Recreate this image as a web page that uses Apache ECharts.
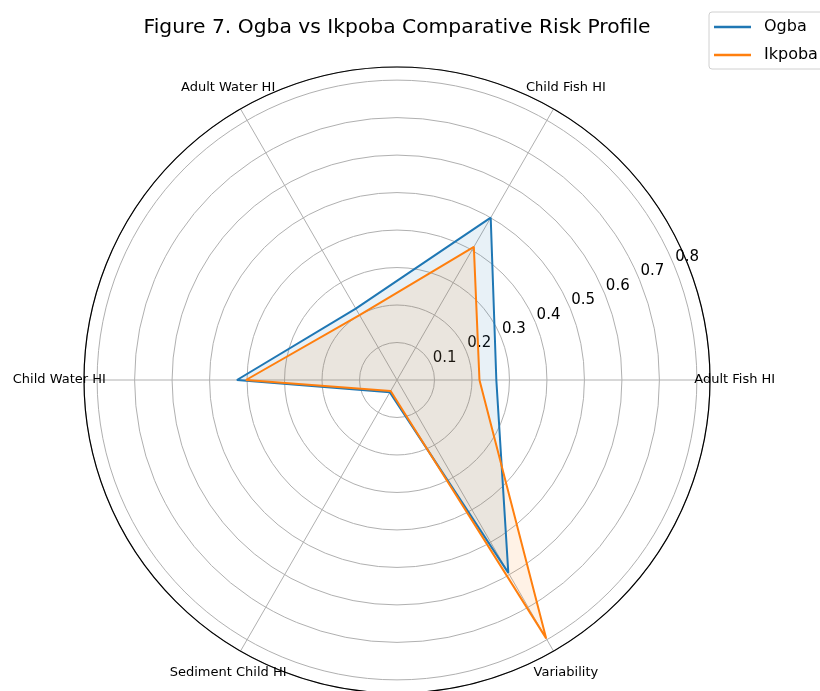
<!DOCTYPE html>
<html>
<head>
<meta charset="utf-8">
<script src="https://cdn.jsdelivr.net/npm/echarts@6/dist/echarts.min.js"></script>
<style>html,body{margin:0;padding:0;background:#fff;}#c{width:820px;height:691px;}</style>
</head>
<body>
<div id="c"></div>
<script>
const categories = ['Adult Fish HI','Child Fish HI','Adult Water HI','Child Water HI','Sediment Child HI','Variability'];
const categoryAngles = [0, 60, 120, 180, 240, 300];
const ogba = [0.265, 0.50, 0.22, 0.427, 0.038, 0.594];
const ikpoba = [0.22, 0.41, 0.20, 0.403, 0.034, 0.796];
const radialTickLabels = ['0.1','0.2','0.3','0.4','0.5','0.6','0.7','0.8'];
const radiusMax = 0.835;
const labelRadius = 0.901;   // layout: where category names sit, in axis units
const radialLabelAngle = 22.5; // layout: angle of radial tick labels

function loop(vals){
  const d = vals.map((v,i)=>[v, categoryAngles[i]]);
  d.push([vals[0], 360]);
  return d;
}
const FONT = 'DejaVu Sans';
const chart = echarts.init(document.getElementById('c'), null, {renderer:'canvas'});
chart.setOption({
  animation:false,
  backgroundColor:'#fff',
  title:{text:'Figure 7. Ogba vs Ikpoba Comparative Risk Profile', left:392, top:13, textAlign:'center',
    textStyle:{fontFamily:FONT, fontSize:20.3, fontWeight:'normal', color:'#000'}},
  legend:{orient:'vertical', left:709, top:12, padding:[7,12,6,5], itemGap:12,
    itemWidth:37, itemHeight:2.5, icon:'rect',
    borderColor:'#d0d0d0', borderWidth:1, borderRadius:3, backgroundColor:'rgba(255,255,255,0.8)',
    textStyle:{fontFamily:FONT, fontSize:16, color:'#000', padding:[0,0,0,8]},
    data:['Ogba','Ikpoba']},
  polar:{center:[397,380], radius:313},
  angleAxis:{type:'value', min:0, max:360, interval:60, startAngle:0, clockwise:false,
      axisLine:{show:true, lineStyle:{color:'#000', width:1.2}},
      axisTick:{show:false},
      splitLine:{show:true, lineStyle:{color:'#b0b0b0', width:1}},
      axisLabel:{show:false}},
  radiusAxis:{type:'value', min:0, max:radiusMax, interval:0.1,
      axisLine:{show:false}, axisTick:{show:false}, axisLabel:{show:false},
      splitLine:{show:true, lineStyle:{color:'#b0b0b0', width:1}}},
  series:[
    {name:'Ogba', type:'line', coordinateSystem:'polar', data:loop(ogba),
      showSymbol:false, symbol:'none', lineStyle:{color:'#1f77b4', width:2}, itemStyle:{color:'#1f77b4'},
      areaStyle:{color:'#1f77b4', opacity:0.1}},
    {name:'Ikpoba', type:'line', coordinateSystem:'polar', data:loop(ikpoba),
      showSymbol:false, symbol:'none', lineStyle:{color:'#ff7f0e', width:2}, itemStyle:{color:'#ff7f0e'},
      areaStyle:{color:'#ff7f0e', opacity:0.1}},
    {name:'categoryLabels', type:'scatter', coordinateSystem:'polar', clip:false,
      symbol:'circle', symbolSize:0, itemStyle:{color:'#000', opacity:1}, silent:true,
      data:categories.map((c,i)=>({name:c, value:[labelRadius, categoryAngles[i]]})),
      label:{show:true, position:'inside', align:'center', verticalAlign:'middle',
        fontFamily:FONT, fontSize:13, color:'#000', textBorderWidth:0, formatter:function(p){return p.name;}}},
    {name:'radialLabels', type:'scatter', coordinateSystem:'polar', clip:false,
      symbol:'circle', symbolSize:0, itemStyle:{color:'#000', opacity:1}, silent:true,
      data:radialTickLabels.map(s=>({name:s, value:[parseFloat(s), radialLabelAngle]})),
      label:{show:true, position:'inside', align:'center', verticalAlign:'middle', offset:[13,-8],
        fontFamily:FONT, fontSize:15, color:'#000', textBorderWidth:0, formatter:function(p){return p.name;}}}
  ]
});
</script>
</body>
</html>
